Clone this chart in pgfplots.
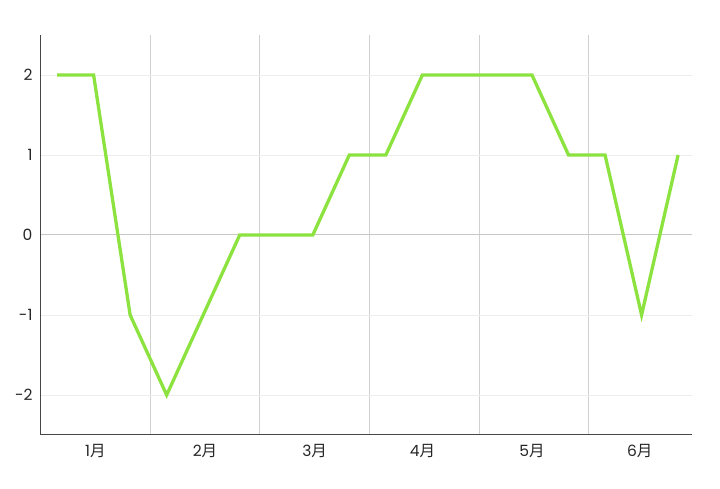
\documentclass[border=0pt]{standalone}
\usepackage{pgfplots}
\pgfplotsset{compat=1.18}
\usepackage{fontspec}
\setmainfont{Poppins}
\newfontfamily\cjk{Noto Sans CJK SC}
\definecolor{linegreen}{RGB}{140,226,62}
\definecolor{axisgray}{RGB}{70,70,70}
\begin{document}
\begin{tikzpicture}
\path[use as bounding box] (-41pt,-54pt) rectangle (679pt,435pt);
\begin{axis}[
  scale only axis,
  width=651pt, height=400pt,
  xmin=0.06, xmax=17.88, ymin=-2.5, ymax=2.5,
  axis x line*=bottom, axis y line*=left,
  axis line style={axisgray, line width=1pt, -},
  xtick={1.55,4.55,7.55,10.5,13.5,16.45},
  xticklabels={1{\cjk 月},2{\cjk 月},3{\cjk 月},4{\cjk 月},5{\cjk 月},6{\cjk 月}},
  minor xtick={3.05,6.05,9.05,12.05,15.05},
  minor x grid style={draw=black!18, line width=0.9pt},
  xminorgrids=true,
  ytick={-2,-1,1,2},
  yticklabels={{-}2,{-}1,1,2},
  ymajorgrids=true,
  major grid style={draw=black!7, line width=0.8pt},
  extra y ticks={0},
  extra y tick labels={0},
  extra y tick style={major grid style={draw=black!22, line width=1pt}},
  major tick length=0pt, minor tick length=0pt,
  every tick label/.append style={font=\fontsize{15.5}{18}\selectfont, text=black!85},
  xticklabel style={yshift=-6pt},
  yticklabel style={xshift=-5pt},
]
\addplot[linegreen, line width=3.3pt, line join=miter] coordinates {
(0.5,2) (1.5,2) (2.5,-1) (3.5,-2) (4.5,-1) (5.5,0) (6.5,0) (7.5,0) (8.5,1)
(9.5,1) (10.5,2) (11.5,2) (12.5,2) (13.5,2) (14.5,1) (15.5,1) (16.5,-1) (17.5,1)
};
\end{axis}
\end{tikzpicture}
\end{document}
